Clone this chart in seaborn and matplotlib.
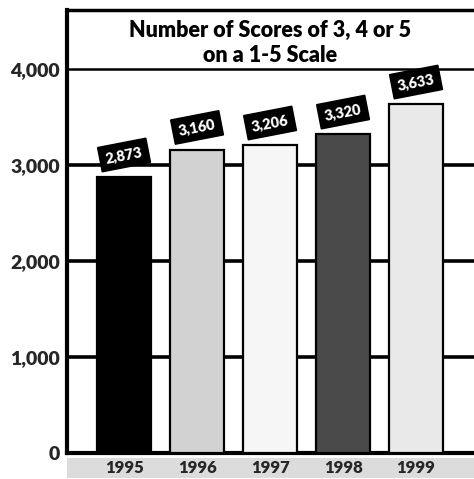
import matplotlib
matplotlib.use("Agg")
import matplotlib.pyplot as plt
import seaborn as sns
import pandas as pd
from matplotlib.patches import Rectangle

# Data
years = ["1995", "1996", "1997", "1998", "1999"]
scores = [2873, 3160, 3206, 3320, 3633]
value_labels = ["2,873", "3,160", "3,206", "3,320", "3,633"]
bar_colors = ["#000000", "#d2d2d2", "#f6f6f6", "#4a4a4a", "#e9e9e9"]
y_ticks = [0, 1000, 2000, 3000, 4000]
y_tick_labels = ["0", "1,000", "2,000", "3,000", "4,000"]
title_lines = ["Number of Scores of 3, 4 or 5", "on a 1-5 Scale"]

sns.set_theme(style="white")
plt.rcParams["font.family"] = ["Lato", "DejaVu Sans"]

df = pd.DataFrame({"year": years, "score": scores})

fig = plt.figure(figsize=(4.74, 4.79), dpi=100)
ax = fig.add_axes([0.1414, 0.0543, 0.8586, 0.9248])

sns.barplot(data=df, x="year", y="score", hue="year", palette=bar_colors,
            legend=False, width=0.75, edgecolor="black", linewidth=1.6,
            saturation=1, ax=ax, zorder=3)

ax.set_xlim(-0.781, 4.794)
ax.set_ylim(0, 4615)

# Heavy horizontal rules behind the bars
for v in y_ticks[1:4]:
    ax.axhline(v, color="black", lw=2.6, zorder=1)
# Rule closing the title panel
ax.axhline(4000, color="black", lw=1.8, zorder=1)

ax.spines["right"].set_visible(False)
ax.spines["left"].set_linewidth(3)
ax.spines["top"].set_linewidth(2.5)
ax.spines["bottom"].set_linewidth(3)
for side in ["left", "top", "bottom"]:
    ax.spines[side].set_color("black")

ax.set_yticks(y_ticks)
ax.set_yticklabels(y_tick_labels, fontsize=14, fontweight="heavy")
ax.tick_params(axis="y", length=0, pad=5)
ax.tick_params(axis="x", length=0, pad=5)
for lab in ax.get_xticklabels():
    lab.set_fontsize(12)
    lab.set_fontweight("heavy")
ax.set_xlabel("")
ax.set_ylabel("")

# Title inside the top panel
ax.text(2.006, 4400, title_lines[0], ha="center", va="center",
        fontsize=15.5, fontweight="heavy", color="black")
ax.text(2.006, 4140, title_lines[1], ha="center", va="center",
        fontsize=15.5, fontweight="heavy", color="black")

# Tilted value tags above each bar
for i, (val, txt) in enumerate(zip(scores, value_labels)):
    ax.annotate(txt, xy=(i, val), xytext=(0, 16), textcoords="offset points",
                ha="center", va="center", rotation=11, color="white",
                fontsize=10.5, fontweight="heavy", zorder=5,
                bbox=dict(boxstyle="square,pad=0.4", fc="black", ec="black"))

# Grey floor band under the year labels
ax.add_patch(Rectangle((0.0, -0.057), 1.0, 0.046, transform=ax.transAxes,
                       facecolor="#dcdcdc", edgecolor="none", clip_on=False,
                       zorder=0))

fig.savefig("out.png", dpi=100)
